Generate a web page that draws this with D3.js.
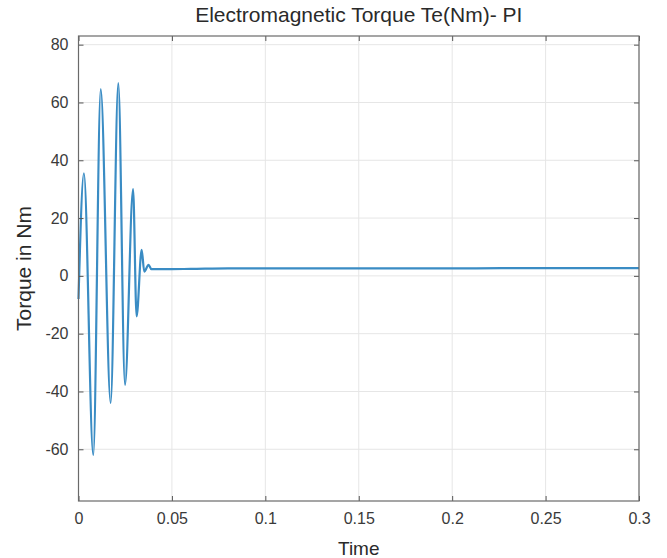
<!DOCTYPE html>
<html>
<head>
<meta charset="utf-8">
<script src="https://cdn.jsdelivr.net/npm/d3@7"></script>
<style>
  html, body { margin: 0; padding: 0; background: #ffffff; }
  svg { display: block; }
  text { font-family: "Liberation Sans", Arial, sans-serif; }
</style>
</head>
<body>
<svg id="chart" width="667" height="558"></svg>
<script>
// ---- data ----
const timeValues   = [0, 0.0029, 0.0079, 0.0119, 0.0172, 0.0213, 0.0249, 0.0292, 0.0311, 0.0338, 0.0352, 0.0375, 0.0390, 0.045, 0.06, 0.08, 0.10, 0.15, 0.20, 0.25, 0.30];
const torqueValues = [-8, 35.5, -62, 64.6, -44, 66.7, -37.7, 30, -14, 9, 1.5, 3.8, 2.3, 2.3, 2.4, 2.6, 2.6, 2.6, 2.6, 2.7, 2.7];
const xTickValues  = [0, 0.05, 0.1, 0.15, 0.2, 0.25, 0.3];
const xTickLabels  = ["0", "0.05", "0.1", "0.15", "0.2", "0.25", "0.3"];
const yTickValues  = [-60, -40, -20, 0, 20, 40, 60, 80];
const yTickLabels  = ["-60", "-40", "-20", "0", "20", "40", "60", "80"];
const titleText  = "Electromagnetic Torque Te(Nm)- PI";
const xLabelText = "Time";
const yLabelText = "Torque in Nm";

// ---- layout ----
const plot = { left: 78.5, right: 639, top: 36, bottom: 501 };
const svg = d3.select("#chart");

const x = d3.scaleLinear().domain([0, 0.3]).range([plot.left, plot.right]);
const y = d3.scaleLinear().domain([-77.9, 83]).range([plot.bottom, plot.top]);

// grid
const grid = svg.append("g");
grid.selectAll(".gx").data(xTickValues).enter().append("line")
  .attr("x1", d => x(d)).attr("x2", d => x(d))
  .attr("y1", plot.top).attr("y2", plot.bottom)
  .attr("stroke", "#e6e6e6").attr("stroke-width", 1);
grid.selectAll(".gy").data(yTickValues).enter().append("line")
  .attr("x1", plot.left).attr("x2", plot.right)
  .attr("y1", d => y(d)).attr("y2", d => y(d))
  .attr("stroke", "#e6e6e6").attr("stroke-width", 1);

// data line
const pts = timeValues.map((t, i) => [t, torqueValues[i]]);
const line = d3.line().x(d => x(d[0])).y(d => y(d[1])).curve(d3.curveMonotoneX);
svg.append("path").datum(pts)
  .attr("d", line)
  .attr("fill", "none")
  .attr("stroke", "#3a8cc4")
  .attr("stroke-width", 2.2)
  .attr("stroke-linejoin", "round");

// axes (ticks inward, labels outside)
const tickColor = "#555";
const labelColor = "#3a3a3a";
const xAxisB = d3.axisBottom(x).tickValues(xTickValues).tickFormat((d, i) => xTickLabels[i]).tickSizeInner(-5).tickSizeOuter(0).tickPadding(12);
const xAxisT = d3.axisTop(x).tickValues(xTickValues).tickFormat("").tickSizeInner(-5).tickSizeOuter(0);
const yAxisL = d3.axisLeft(y).tickValues(yTickValues).tickFormat((d, i) => yTickLabels[i]).tickSizeInner(-5).tickSizeOuter(0).tickPadding(10);
const yAxisR = d3.axisRight(y).tickValues(yTickValues).tickFormat("").tickSizeInner(-5).tickSizeOuter(0);

function styleAxis(g) {
  g.select(".domain").remove();
  g.selectAll(".tick line").attr("stroke", tickColor);
  g.selectAll(".tick text").attr("fill", labelColor).style("font-size", "16px").style("font-family", "Liberation Sans, Arial, sans-serif");
}
svg.append("g").attr("transform", `translate(0,${plot.bottom})`).call(xAxisB).call(styleAxis);
svg.append("g").attr("transform", `translate(0,${plot.top})`).call(xAxisT).call(styleAxis);
svg.append("g").attr("transform", `translate(${plot.left},0)`).call(yAxisL).call(styleAxis);
svg.append("g").attr("transform", `translate(${plot.right},0)`).call(yAxisR).call(styleAxis);

// box
svg.append("rect")
  .attr("x", plot.left).attr("y", plot.top)
  .attr("width", plot.right - plot.left).attr("height", plot.bottom - plot.top)
  .attr("fill", "none").attr("stroke", "#6a6a6a").attr("stroke-width", 1.2);

// title and labels
svg.append("text").attr("x", (plot.left + plot.right) / 2).attr("y", 22)
  .attr("text-anchor", "middle").attr("fill", "#2a2a2a")
  .style("font-size", "21px").text(titleText);
svg.append("text").attr("x", (plot.left + plot.right) / 2).attr("y", 555)
  .attr("text-anchor", "middle").attr("fill", "#2a2a2a")
  .style("font-size", "19px").text(xLabelText);
svg.append("text")
  .attr("transform", `translate(31,${(plot.top + plot.bottom) / 2}) rotate(-90)`)
  .attr("text-anchor", "middle").attr("fill", "#2a2a2a")
  .style("font-size", "21px").text(yLabelText);
</script>
</body>
</html>
